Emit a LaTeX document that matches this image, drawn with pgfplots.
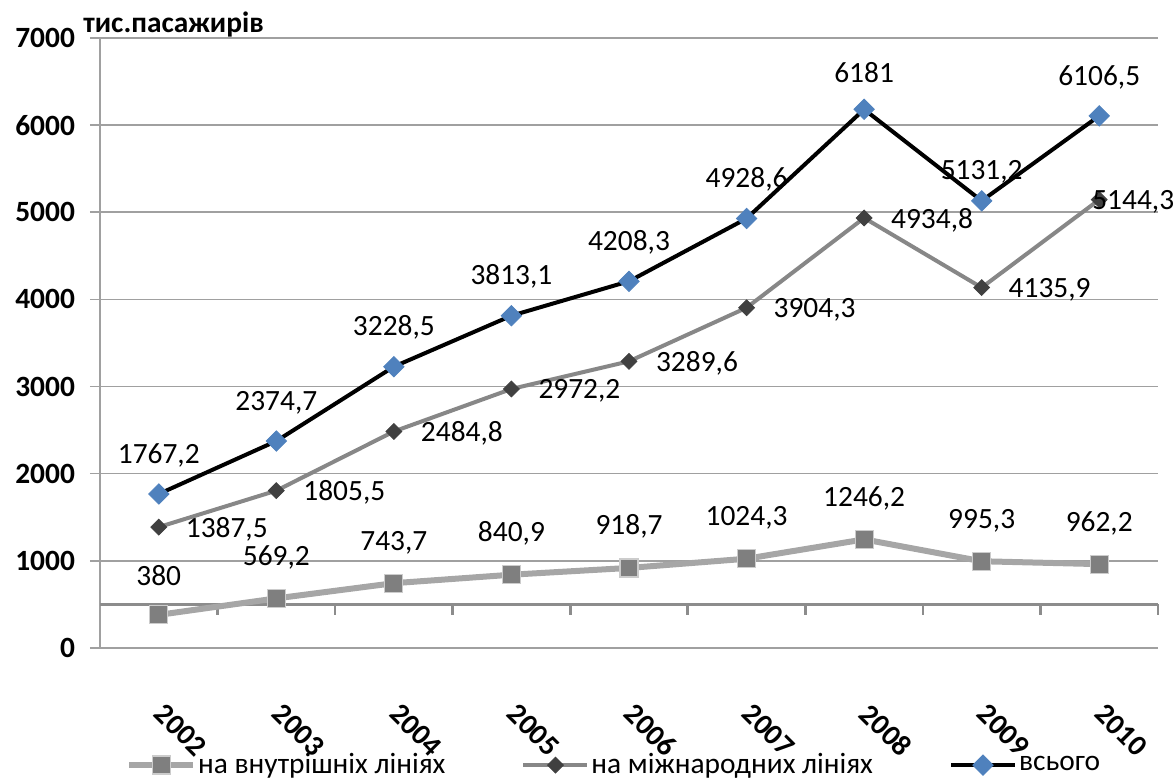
\documentclass[border=0pt]{standalone}
\usepackage{pgfplots}
\pgfplotsset{compat=1.18}
\usepackage{fontspec}
\setmainfont{Carlito}
\definecolor{gridc}{HTML}{A0A0A0}
\definecolor{axc}{HTML}{8C8C8C}
\definecolor{inlin}{HTML}{A6A6A6}
\definecolor{inmark}{HTML}{7F7F7F}
\definecolor{intlin}{HTML}{878787}
\definecolor{intmark}{HTML}{404040}
\definecolor{totmark}{HTML}{4F81BD}
\newcommand\fs{\fontsize{14.7}{17.6}\selectfont}

\begin{document}
\begin{tikzpicture}
\begin{axis}[
  name=ax,
  width=529pt, height=305pt, scale only axis,
  xmin=-0.5, xmax=8.5, ymin=0, ymax=7000,
  xtick={0,...,8},
  xticklabels={2002,2003,2004,2005,2006,2007,2008,2009,2010},
  ytick={0,1000,...,7000},
  axis x line*=bottom, axis y line*=left,
  axis line style={gridc, line width=0.8pt},
  ymajorgrids, grid style={gridc, line width=0.8pt},
  tick align=outside, major tick length=5pt,
  xtick style={draw=none},
  ytick style={gridc, line width=0.8pt},
  /pgf/number format/assume math mode=true,
  /pgf/number format/1000 sep={},
  tick label style={font=\fs\bfseries},
  yticklabel style={xshift=-4pt},
  xticklabel style={xshift=11pt, yshift=-36pt, rotate=-45, anchor=center},
  clip=false,
  legend style={at={(0.486,-0.192)}, anchor=center, legend columns=-1,
    draw=none, fill=none, font=\fs,
    /tikz/every even column/.append style={column sep=37pt},
    nodes={inner sep=1pt}},
  legend image code/.code={\draw[mark repeat=2, mark phase=2]
    plot coordinates {(0pt,0pt) (16pt,0pt) (32pt,0pt)};},
]
% category axis crosses at 500, ticks hang down from it
\draw[axc, line width=1.3pt] (axis cs:-0.5,500) -- (axis cs:8.5,500);
\draw[axc, line width=1.3pt] (axis cs:0.5,500) -- (axis cs:0.5,375);
\draw[axc, line width=1.3pt] (axis cs:1.5,500) -- (axis cs:1.5,375);
\draw[axc, line width=1.3pt] (axis cs:2.5,500) -- (axis cs:2.5,375);
\draw[axc, line width=1.3pt] (axis cs:3.5,500) -- (axis cs:3.5,375);
\draw[axc, line width=1.3pt] (axis cs:4.5,500) -- (axis cs:4.5,375);
\draw[axc, line width=1.3pt] (axis cs:5.5,500) -- (axis cs:5.5,375);
\draw[axc, line width=1.3pt] (axis cs:6.5,500) -- (axis cs:6.5,375);
\draw[axc, line width=1.3pt] (axis cs:7.5,500) -- (axis cs:7.5,375);
\draw[axc, line width=1.3pt] (axis cs:8.5,500) -- (axis cs:8.5,375);

\addplot[inlin, line width=3pt, mark=square*, mark size=4.5pt,
  mark options={fill=inmark, draw=gray!40, line width=0.6pt},
  point meta=explicit symbolic, nodes near coords,
  nodes near coords style={font=\fs, text=black, anchor=south, yshift=11pt}]
  coordinates {
  (0,380) [380]
  (1,569.2) [569,2]
  (2,743.7) [743,7]
  (3,840.9) [840,9]
  (4,918.7) [918,7]
  (5,1024.3) [1024,3]
  (6,1246.2) [1246,2]
  (7,995.3) [995,3]
  (8,962.2) [962,2]
  };
\addlegendentry{на внутрішніх лініях}

\addplot[intlin, line width=2pt, mark=square*, mark size=2.8pt,
  mark options={fill=intmark, draw=intmark, line width=0.4pt, rotate=45},
  point meta=explicit symbolic, nodes near coords,
  nodes near coords style={font=\fs, text=black, anchor=west, xshift=10pt, yshift=-1pt}]
  coordinates {
  (0,1387.5) [1387,5]
  (1,1805.5) [1805,5]
  (2,2484.8) [2484,8]
  (3,2972.2) [2972,2]
  (4,3289.6) [3289,6]
  (5,3904.3) [3904,3]
  (6,4934.8) [4934,8]
  (7,4135.9) [4135,9]
  (8,5144.3) [{\hspace*{-17pt}5144,3}]
  };
\addlegendentry{на міжнародних лініях}

\addplot[black, line width=2pt, mark=square*, mark size=3.6pt,
  mark options={fill=totmark, draw=totmark, line width=0.4pt, rotate=45},
  point meta=explicit symbolic, nodes near coords,
  nodes near coords style={font=\fs, text=black, anchor=south, yshift=10pt}]
  coordinates {
  (0,1767.2) [1767,2]
  (1,2374.7) [2374,7]
  (2,3228.5) [3228,5]
  (3,3813.1) [3813,1]
  (4,4208.3) [4208,3]
  (5,4928.6) [4928,6]
  (6,6181) [6181]
  (7,5131.2) [{\raisebox{-3pt}[0.7em][0pt]{5131,2}}]
  (8,6106.5) [6106,5]
  };
\addlegendentry{всього}
\end{axis}
\node[anchor=base west, inner sep=0pt, font=\fs\bfseries, xshift=-8.5pt, yshift=2.5pt]
  at (ax.north west) {тис.пасажирів};
\pgfresetboundingbox
\path ([xshift=-50pt,yshift=-66pt]ax.south west) rectangle ([xshift=8.5pt,yshift=19pt]ax.north east);
\end{tikzpicture}
\end{document}
